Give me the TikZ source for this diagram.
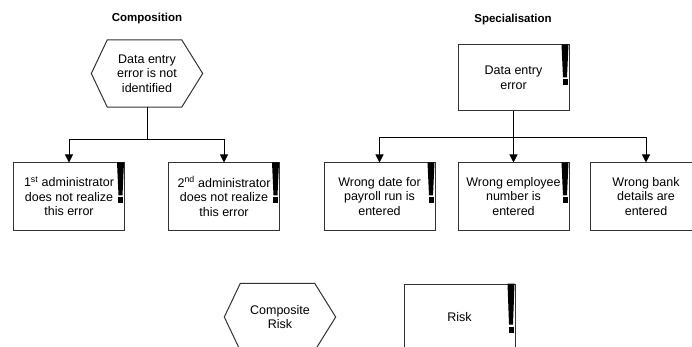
\documentclass[tikz,border=0pt]{standalone}
\usepackage{fontspec}
\setmainfont{Liberation Sans}
\usetikzlibrary{arrows.meta}
\newcommand\myexcl[2][33]{%
  \begin{scope}[shift={(#2.north east)}]
    \fill[black] (-8,0) -- (-1,0) -- (-2.5,#1) -- (-6.5,#1) -- cycle;
    \fill[black] (-7,#1+2) rectangle (-2,#1+8);
  \end{scope}}
\tikzset{
  x=1pt, y=-1pt,
  lbl/.style={font=\fontsize{12.5}{14.5}\selectfont, align=center, inner sep=0pt},
  title/.style={font=\bfseries\fontsize{11.5}{13}\selectfont, inner sep=0pt},
  riskbox/.style={lbl, draw=black!80, line width=1pt, minimum width=111pt, minimum height=67pt},
  hexarea/.style={lbl, minimum width=111pt, minimum height=67pt},
  hexline/.style={draw=black!80, line width=1pt},
  conn/.style={draw=black, line width=1pt},
  arr/.style={conn, -{Triangle[width=8pt,length=8pt]}}
}
\newcommand\myhex[1]{%
  \draw[hexline] ([xshift=16pt]#1.north west) -- ([xshift=-21pt]#1.north east) -- (#1.east)
    -- ([xshift=-21pt]#1.south east) -- ([xshift=16pt]#1.south west) -- (#1.west) -- cycle;}
\begin{document}
\begin{tikzpicture}
\useasboundingbox (0,0) rectangle (692,347);
\clip (0,0) rectangle (692,347);
\fill[white] (0,0) rectangle (692,347);

\node[title] (t1) at (147,19) {Composition};
\node[title] (t2) at (513,20) {Specialisation};

% Composition
\node[hexarea] (hex) at (147,73.5) {Data entry\\error is not\\identified};
\myhex{hex}
\node[riskbox] (b1) at (69,196.5) {1\textsuperscript{st} administrator\\does not realize\\this error};
\node[riskbox] (b2) at (224,196.5) {2\textsuperscript{nd} administrator\\does not realize\\this error};
\myexcl{b1}
\myexcl{b2}
\coordinate (j1) at (147,140);
\draw[conn] (hex.south) -- (j1);
\draw[arr] (j1) -| (b1.north);
\draw[arr] (j1) -| (b2.north);

% Specialisation
\node[riskbox, minimum height=66pt] (spec) at (513.5,78) {Data entry\\error};
\myexcl{spec}
\node[riskbox] (b3) at (379.5,196.5) {Wrong date for\\payroll run is\\entered};
\node[riskbox] (b4) at (513.5,196.5) {Wrong employee\\number is\\entered};
\node[riskbox] (b5) at (646,196.5) {Wrong bank\\details are\\entered};
\myexcl{b3}
\myexcl{b4}
\coordinate (j2) at (513.5,138);
\draw[conn] (spec.south) -- (j2);
\draw[arr] (j2) -| (b3.north);
\draw[arr] (j2) -- (b4.north);
\draw[arr] (j2) -| (b5.north);

% Legend
\node[hexarea] (lh) at (280,317) {Composite\\Risk};
\myhex{lh}
\node[riskbox] (lr) at (459.5,317.5) {Risk};
\myexcl[41]{lr}
\end{tikzpicture}
\end{document}
